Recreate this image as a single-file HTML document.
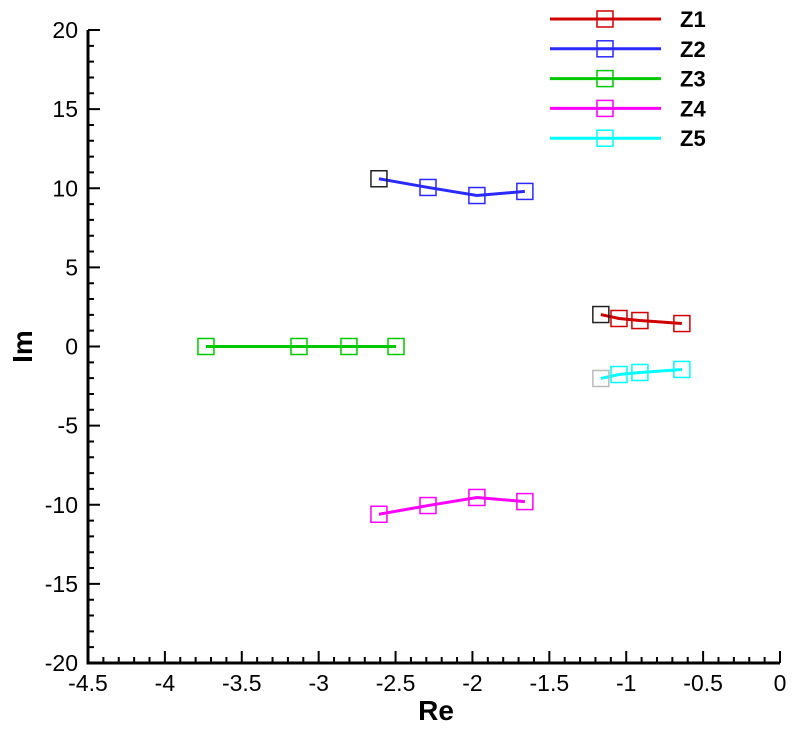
<!DOCTYPE html>
<html><head><meta charset="utf-8"><style>body{margin:0;background:#fff}svg{display:block;font-family:"Liberation Sans",sans-serif}</style></head>
<body>
<svg id="c" width="800" height="729"></svg>
<script>
const seriesNames=["Z1","Z2","Z3","Z4","Z5"];
const seriesColors=["#d00000","#2a2aff","#00c800","#ff00ff","#00ffff"];
const firstMarkerColors=["#222","#222","#00c800","#ff00ff","#bbb"];
const z1Re=[-1.165,-1.047,-0.911,-0.638], z1Im=[2.02,1.77,1.64,1.45];
const z2Re=[-2.608,-2.289,-1.971,-1.659], z2Im=[10.6,10.05,9.54,9.8];
const z3Re=[-3.733,-3.128,-2.803,-2.497], z3Im=[0,0,0,0];
const z4Re=[-2.608,-2.289,-1.971,-1.659], z4Im=[-10.6,-10.05,-9.54,-9.8];
const z5Re=[-1.165,-1.047,-0.911,-0.638], z5Im=[-2.02,-1.77,-1.64,-1.45];
const xTicks=[-4.5,-4,-3.5,-3,-2.5,-2,-1.5,-1,-0.5,0];
const yTicks=[-20,-15,-10,-5,0,5,10,15,20];
const NS="http://www.w3.org/2000/svg", svg=document.getElementById('c');
const X0=88,X1=780,Y0=663,Y1=30;
const sx=v=>X0+(v+4.5)/4.5*(X1-X0);
const sy=v=>Y0-(v+20)/40*(Y0-Y1);
function mk(t,a,p){const e=document.createElementNS(NS,t);for(const k in a)e.setAttribute(k,a[k]);(p||svg).appendChild(e);return e;}
const ax=mk('path',{d:`M${X0},${Y1} V${Y0} H${X1}`,stroke:'#000','stroke-width':3,fill:'none'});


let d='';
for(let i=0;i<=45;i++){const v=-4.5+i*0.1,x=sx(v),L=(i%5===0)?12:6;d+=`M${x},${Y0} v${-L}`;}
for(let i=0;i<=40;i++){const v=-20+i,y=sy(v),L=(i%5===0)?12:6;d+=`M${X0},${y} h${L}`;}
const tk=mk('path',{d:d,stroke:'#000','stroke-width':2});


xTicks.forEach(v=>{const t=mk('text',{x:sx(v),y:Y0+28,'text-anchor':'middle','font-size':23});t.textContent=String(v);

});
yTicks.forEach(v=>{const t=mk('text',{x:X0-10,y:sy(v)+8,'text-anchor':'end','font-size':23});t.textContent=String(v);

});
const xt=mk('text',{x:436,y:720,'text-anchor':'middle','font-size':28,'font-weight':'bold'});xt.textContent='Re';


const yt=mk('text',{x:0,y:0,'text-anchor':'middle','font-size':28,'font-weight':'bold',transform:`translate(32,${sy(0)}) rotate(-90)`});yt.textContent='Im';


const allRe=[z1Re,z2Re,z3Re,z4Re,z5Re], allIm=[z1Im,z2Im,z3Im,z4Im,z5Im];
allRe.forEach((re,s)=>{const g=mk('g',{});


mk('polyline',{points:re.map((v,i)=>sx(v)+','+sy(allIm[s][i])).join(' '),stroke:seriesColors[s],'stroke-width':3,fill:'none'},g);
re.forEach((v,i)=>{const r=mk('rect',{x:sx(v)-8,y:sy(allIm[s][i])-8,width:16,height:16,fill:'none',stroke:i===0?firstMarkerColors[s]:seriesColors[s],'stroke-width':1.5},g);

});
const ly=19+s*29.8;const lg=mk('g',{});


mk('line',{x1:550,x2:661,y1:ly,y2:ly,stroke:seriesColors[s],'stroke-width':3},lg);
mk('rect',{x:597,y:ly-8,width:16,height:16,fill:'none',stroke:seriesColors[s],'stroke-width':1.5},lg);
const t=mk('text',{x:680,y:ly+8,'font-size':22,'font-weight':'bold'},lg);t.textContent=seriesNames[s];});
</script>
</body></html>
